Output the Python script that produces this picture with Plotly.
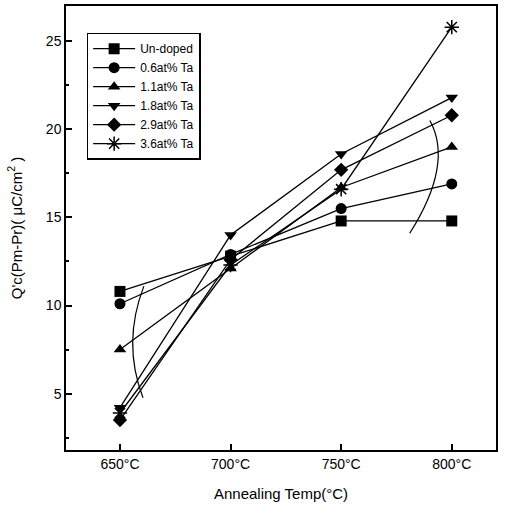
import plotly.graph_objects as go

temps = [650, 700, 750, 800]
tick_labels = ["650°C", "700°C", "750°C", "800°C"]

series_names = ["Un-doped", "0.6at% Ta", "1.1at% Ta", "1.8at% Ta", "2.9at% Ta", "3.6at% Ta"]
undoped = [10.8, 12.8, 14.8, 14.8]
ta06 = [10.1, 12.9, 15.5, 16.9]
ta11 = [7.5, 12.1, 16.7, 19.0]
ta18 = [4.2, 14.0, 18.6, 21.8]
ta29 = [3.5, 12.6, 17.7, 20.8]
ta36 = [3.9, 12.3, 16.6, 25.8]

series_values = [undoped, ta06, ta11, ta18, ta29, ta36]
symbols = ["square", "circle", "triangle-up", "triangle-down", "diamond", "asterisk-open"]

fig = go.Figure()
for name, vals, sym in zip(series_names, series_values, symbols):
    is_star = sym == "asterisk-open"
    fig.add_trace(go.Scatter(
        x=temps, y=vals, name=name, mode="lines+markers",
        line=dict(color="black", width=1.3),
        marker=dict(symbol=sym, size=12 if is_star else 11, color="black",
                    line=dict(color="black", width=1.5 if is_star else 0)),
    ))

# curved trend arrows (annotation arcs)
fig.add_shape(type="path", xref="x", yref="y",
              path="M 660.8,11.1 Q 650.9,7.87 660.4,4.77",
              line=dict(color="black", width=1.2))
fig.add_shape(type="path", xref="x", yref="y",
              path="M 790.1,20.5 Q 800.9,18.04 781.0,14.1",
              line=dict(color="black", width=1.2))

font_family = "Liberation Sans, Arial, sans-serif"
fig.update_layout(
    width=507, height=514,
    margin=dict(l=66, r=11, t=4, b=64),
    paper_bgcolor="white", plot_bgcolor="white",
    font=dict(family=font_family, color="black", size=14),
    showlegend=True,
    legend=dict(x=0.048, y=0.94, xanchor="left", yanchor="top",
                bordercolor="black", borderwidth=1.5, bgcolor="white",
                font=dict(size=12, family=font_family), tracegroupgap=0,
                itemwidth=42),
    xaxis=dict(range=[625.6, 820], tickvals=temps, ticktext=tick_labels,
               ticks="inside", ticklen=6, tickwidth=1.5, tickcolor="black",
               showline=True, linecolor="black", linewidth=1.5, mirror=True,
               showgrid=False, zeroline=False,
               title=dict(text="Annealing Temp(°C)", font=dict(size=15), standoff=18),
               tickfont=dict(size=14)),
    yaxis=dict(range=[1.8, 27.0], tickvals=[5, 10, 15, 20, 25],
               ticks="inside", ticklen=6, tickwidth=1.5, tickcolor="black",
               minor=dict(dtick=2.5, ticks="inside", ticklen=3, tickcolor="black"),
               showline=True, linecolor="black", linewidth=1.5, mirror=True,
               showgrid=False, zeroline=False,
               title=dict(text="Q'c(Pm-Pr)( μC/cm<sup>2</sup> )", font=dict(size=15), standoff=20),
               tickfont=dict(size=14)),
)

fig.write_html("out.html")
